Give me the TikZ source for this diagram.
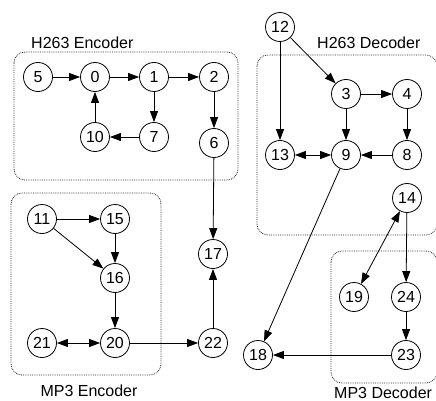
\documentclass[tikz,border=0pt]{standalone}
\usepackage{fontspec}
\setmainfont{Liberation Sans}
\usetikzlibrary{arrows.meta}
\begin{document}
\begin{tikzpicture}[x=1pt,y=-1pt,
  vtx/.style={circle,draw,line width=0.8pt,minimum size=29pt,inner sep=0pt,font=\fontsize{16}{16}\selectfont},
  edge/.style={line width=0.8pt,-{Triangle[length=11pt,width=8pt]}},
  bedge/.style={line width=0.8pt,{Triangle[length=11pt,width=8pt]}-{Triangle[length=11pt,width=8pt]}},
  grp/.style={draw=black!85,line width=0.8pt,dash pattern=on 0.8pt off 1pt,rounded corners=11pt},
  lbl/.style={font=\fontsize{16}{16}\selectfont,inner sep=0pt}]
\useasboundingbox (0,0) rectangle (436,401);
% groups
\draw[grp] (14,52) rectangle (238,180);
\draw[grp] (257,55) rectangle (437,235);
\draw[grp] (11,193) rectangle (161,375);
\draw[grp] (331,251) rectangle (437,383);
\node[lbl,anchor=west] (le) at (31,43) {H263 Encoder};
\node[lbl,anchor=west] (ld) at (317,43) {H263 Decoder};
\node[lbl] (lme) at (89,391) {MP3 Encoder};
\node[lbl,anchor=west] (lmd) at (334,393) {MP3 Decoder};
% nodes
\node[vtx] (n5) at (38,77) {5};
\node[vtx] (n0) at (95,77) {0};
\node[vtx] (n1) at (154,77) {1};
\node[vtx] (n2) at (214,77) {2};
\node[vtx] (n10) at (95,137) {10};
\node[vtx] (n7) at (154,137) {7};
\node[vtx] (n6) at (214,143) {6};
\node[vtx] (n12) at (280,27) {12};
\node[vtx] (n3) at (346,94) {3};
\node[vtx] (n4) at (407,94) {4};
\node[vtx] (n13) at (280,155) {13};
\node[vtx] (n9) at (346,155) {9};
\node[vtx] (n8) at (407,155) {8};
\node[vtx] (n14) at (407,198) {14};
\node[vtx] (n11) at (42,219) {11};
\node[vtx] (n15) at (115,219) {15};
\node[vtx] (n16) at (115,278) {16};
\node[vtx] (n20) at (115,343) {20};
\node[vtx] (n21) at (42,343) {21};
\node[vtx] (n17) at (213,254) {17};
\node[vtx] (n22) at (213,343) {22};
\node[vtx] (n19) at (354,297) {19};
\node[vtx] (n24) at (406,297) {24};
\node[vtx] (n23) at (406,355) {23};
\node[vtx] (n18) at (258,355) {18};
% edges
\draw[edge] (n5) -- (n0);
\draw[edge] (n0) -- (n1);
\draw[edge] (n1) -- (n2);
\draw[edge] (n1) -- (n7);
\draw[edge] (n7) -- (n10);
\draw[edge] (n10) -- (n0);
\draw[edge] (n2) -- (n6);
\draw[edge] (n6) -- (n17);
\draw[edge] (n12) -- (n3);
\draw[edge] (n12) -- (n13);
\draw[edge] (n3) -- (n4);
\draw[edge] (n3) -- (n9);
\draw[edge] (n4) -- (n8);
\draw[edge] (n8) -- (n9);
\draw[bedge] (n13) -- (n9);
\draw[edge] (n9) -- (n18);
\draw[bedge] (n14) -- (n19);
\draw[edge] (n14) -- (n24);
\draw[edge] (n24) -- (n23);
\draw[edge] (n23) -- (n18);
\draw[edge] (n11) -- (n15);
\draw[edge] (n11) -- (n16);
\draw[edge] (n15) -- (n16);
\draw[edge] (n16) -- (n20);
\draw[bedge] (n21) -- (n20);
\draw[edge] (n20) -- (n22);
\draw[edge] (n22) -- (n17);
\end{tikzpicture}
\end{document}
